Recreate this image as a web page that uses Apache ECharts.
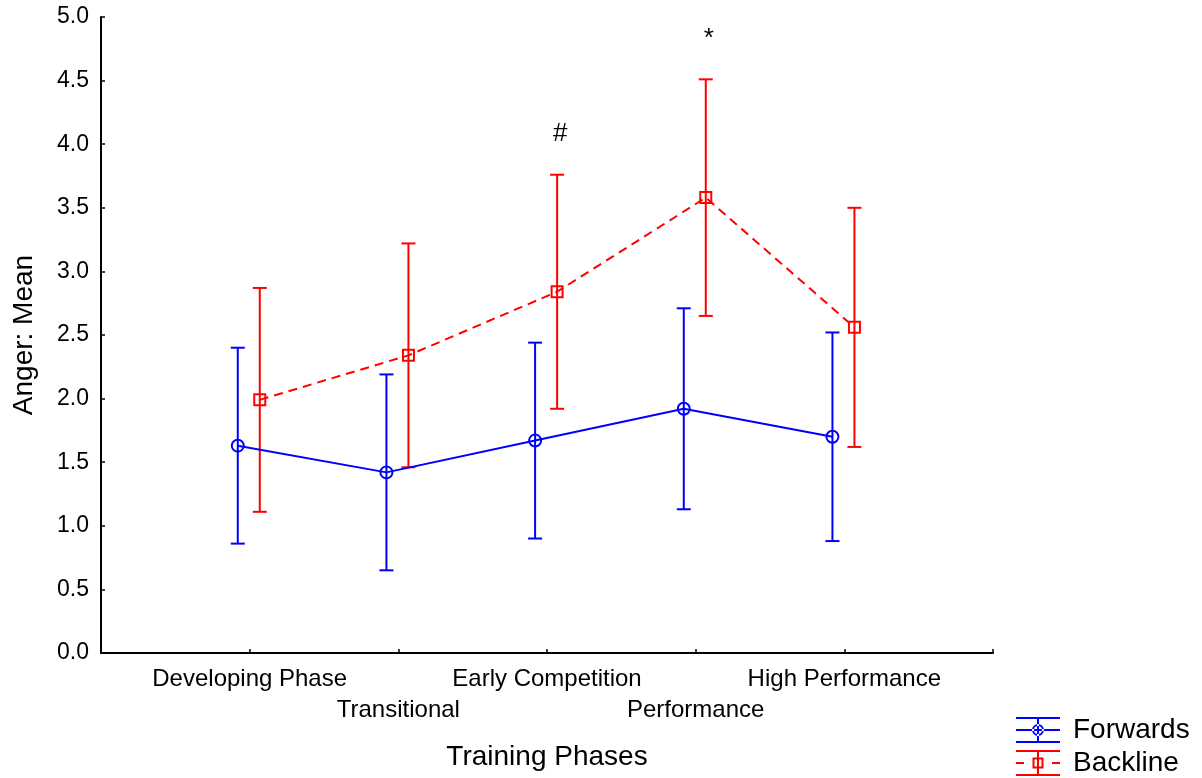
<!DOCTYPE html>
<html>
<head>
<meta charset="utf-8">
<title>Anger: Mean by Training Phases</title>
<script src="https://cdn.jsdelivr.net/npm/echarts@6/dist/echarts.min.js"></script>
<style>
  html, body { margin: 0; padding: 0; background: #ffffff; }
  #chart { width: 1202px; height: 778px; }
</style>
</head>
<body>
<div id="chart"></div>
<script>
// Training phases along the x axis (placed at positions 1..5 of a 0..6 axis)
var phases = ['Developing Phase', 'Transitional', 'Early Competition', 'Performance', 'High Performance'];

// Group means and 95% confidence half-widths
var forwardsMean = [1.63, 1.42, 1.67, 1.92, 1.70];
var forwardsCI   = [0.77, 0.77, 0.77, 0.79, 0.82];
var backlineMean = [1.99, 2.34, 2.84, 3.58, 2.56];
var backlineCI   = [0.88, 0.88, 0.92, 0.93, 0.94];

// Significance markers drawn above the Backline means
var markPhaseIndex = [2, 3];
var markSymbols    = ['#', '*'];
var markHeights    = [4.08, 4.83];

// Y axis range / tick step
var yMin = 0, yMax = 5, yStep = 0.5;

// Horizontal dodge of each group around the phase position (axis units)
var forwardsShift = -0.08;
var backlineShift = 0.068;

var FONT = '"Liberation Sans", Arial, sans-serif';

function points(means, shift) {
  return means.map(function (m, i) { return [i + 1 + shift, m]; });
}
function bars(means, ci, shift) {
  return means.map(function (m, i) { return [i + 1 + shift, m - ci[i], m + ci[i]]; });
}

function errorBarRenderer(color) {
  return function (params, api) {
    var x = api.value(0);
    var lo = api.coord([x, api.value(1)]);
    var hi = api.coord([x, api.value(2)]);
    var cap = 7;
    var style = { stroke: color, lineWidth: 2 };
    return {
      type: 'group',
      children: [
        { type: 'line', shape: { x1: lo[0], y1: lo[1], x2: hi[0], y2: hi[1] }, style: style },
        { type: 'line', shape: { x1: hi[0] - cap, y1: hi[1], x2: hi[0] + cap, y2: hi[1] }, style: style },
        { type: 'line', shape: { x1: lo[0] - cap, y1: lo[1], x2: lo[0] + cap, y2: lo[1] }, style: style }
      ]
    };
  };
}

// Legend glyphs: error bar with caps, mean line and marker (44 x 26 box)
var forwardsIcon = 'path://' +
  'M0 0H44V2H0Z M0 12H44V14H0Z M0 24H44V26H0Z M21 0H23V26H21Z ' +
  'M16 13a6 6 0 1 0 12 0a6 6 0 1 0 -12 0Z ' +
  'M18 13a4 4 0 1 1 8 0a4 4 0 1 1 -8 0Z';
var backlineIcon = 'path://' +
  'M0 0H44V2H0Z M0 24H44V26H0Z M0 12H8V14H0Z M36 12H44V14H36Z M21 0H23V26H21Z ' +
  'M16.5 7.5H27.5V18.5H16.5Z M18.5 9.5V16.5H25.5V9.5Z';

function legendEntry(name, icon, color, top) {
  return {
    left: 1016, top: top,
    padding: 0,
    itemWidth: 44, itemHeight: 26,
    textStyle: { fontFamily: FONT, fontSize: 28, color: '#000', padding: [0, 0, 0, 8] },
    itemStyle: { borderWidth: 0 },
    data: [{ name: name, icon: icon, itemStyle: { color: color, borderWidth: 0 } }]
  };
}

var chart = echarts.init(document.getElementById('chart'), null, { renderer: 'canvas' });

var option = {
  backgroundColor: '#ffffff',
  animation: false,
  grid: { left: 101, right: 209, top: 17, bottom: 125, containLabel: false, outerBoundsMode: 'none' },
  xAxis: {
    type: 'value',
    min: 0, max: phases.length + 1, interval: 1,
    name: 'Training Phases',
    nameLocation: 'middle',
    nameGap: 90,
    nameTextStyle: { fontFamily: FONT, fontSize: 28, color: '#000' },
    axisLine: { show: true, lineStyle: { color: '#000', width: 2 } },
    axisTick: { show: true, inside: true, length: 4, lineStyle: { color: '#000', width: 1.5 } },
    splitLine: { show: false },
    axisLabel: {
      fontFamily: FONT, fontSize: 24, color: '#000', lineHeight: 31, margin: 11,
      showMinLabel: true, showMaxLabel: true,
      formatter: function (v) {
        var i = Math.round(v) - 1;
        if (i < 0 || i >= phases.length) return '';
        return (i % 2 === 1 ? '\n' : '') + phases[i];
      }
    }
  },
  yAxis: {
    type: 'value',
    min: yMin, max: yMax, interval: yStep,
    name: 'Anger: Mean',
    nameLocation: 'middle',
    nameGap: 63,
    nameTextStyle: { fontFamily: FONT, fontSize: 28, color: '#000' },
    axisLine: { show: true, lineStyle: { color: '#000', width: 2 } },
    axisTick: { show: true, inside: true, length: 4, lineStyle: { color: '#000', width: 1.5 } },
    splitLine: { show: false },
    axisLabel: {
      fontFamily: FONT, fontSize: 23, color: '#000', margin: 12,
      formatter: function (v) { return v.toFixed(1); }
    }
  },
  legend: [
    legendEntry('Forwards', forwardsIcon, '#0000ff', 716),
    legendEntry('Backline', backlineIcon, '#ff0000', 749)
  ],
  series: [
    {
      name: 'Forwards',
      type: 'line',
      data: points(forwardsMean, forwardsShift),
      color: '#0000ff',
      lineStyle: { color: '#0000ff', width: 2 },
      symbol: 'circle', symbolSize: 12,
      itemStyle: { color: 'rgba(0,0,0,0)', borderColor: '#0000ff', borderWidth: 2 },
      z: 3
    },
    {
      name: 'Forwards',
      type: 'custom',
      renderItem: errorBarRenderer('#0000ff'),
      data: bars(forwardsMean, forwardsCI, forwardsShift),
      encode: { x: 0, y: [1, 2] },
      color: '#0000ff',
      z: 2
    },
    {
      name: 'Backline',
      type: 'line',
      data: points(backlineMean, backlineShift),
      color: '#ff0000',
      lineStyle: { color: '#ff0000', width: 2, type: [9, 6] },
      symbol: 'rect', symbolSize: 11,
      itemStyle: { color: 'rgba(0,0,0,0)', borderColor: '#ff0000', borderWidth: 2 },
      z: 3,
      markPoint: {
        symbol: 'circle', symbolSize: 0,
        label: {
          show: true, position: 'inside', color: '#000',
          fontFamily: FONT, fontSize: 26, offset: [3, 0],
          formatter: function (p) { return p.name; }
        },
        data: markPhaseIndex.map(function (idx, k) {
          return { name: markSymbols[k], coord: [idx + 1 + backlineShift, markHeights[k]] };
        })
      }
    },
    {
      name: 'Backline',
      type: 'custom',
      renderItem: errorBarRenderer('#ff0000'),
      data: bars(backlineMean, backlineCI, backlineShift),
      encode: { x: 0, y: [1, 2] },
      color: '#ff0000',
      z: 2
    }
  ]
};

chart.setOption(option);
</script>
</body>
</html>
